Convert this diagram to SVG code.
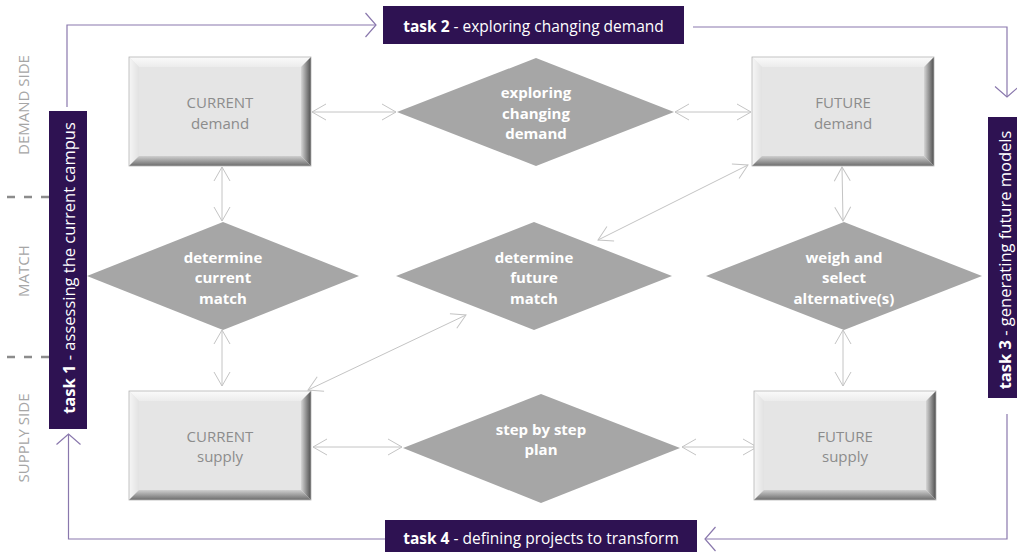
<svg xmlns="http://www.w3.org/2000/svg" xmlns:xlink="http://www.w3.org/1999/xlink" width="1017" height="552" viewBox="0 0 1017 552">
<style>
.boxtxt{font-family:"Open Sans","Liberation Sans",sans-serif;font-size:15px;fill:#8c8c8c;text-anchor:middle}
.dtxt{font-family:"Open Sans","Liberation Sans",sans-serif;font-size:15px;font-weight:bold;fill:#ffffff;text-anchor:middle}
.diam{fill:#a6a6a6}
.banner{fill:#2e1252}
.btxt{font-family:"Open Sans","Liberation Sans",sans-serif;font-size:15.5px;fill:#ffffff;text-anchor:middle}
.vtxt{font-family:"Open Sans","Liberation Sans",sans-serif;font-size:16.5px;fill:#ffffff;text-anchor:middle}
.side{font-family:"Open Sans","Liberation Sans",sans-serif;font-size:15px;fill:#a6a6a6;text-anchor:middle}
.conn{stroke:#c4c4c4;stroke-width:1;fill:none;marker-start:url(#ga);marker-end:url(#ga)}
.flow{stroke:#8a78ad;stroke-width:1.2;fill:none;marker-end:url(#pa)}
.dash{stroke:#8c8c8c;stroke-width:2.5;stroke-dasharray:8 9}
</style>
<defs>
<linearGradient id="gr" x1="0" y1="0" x2="1" y2="0">
<stop offset="0" stop-color="#d6d6d6"/><stop offset="1" stop-color="#4e4e4e"/>
</linearGradient>
<linearGradient id="gb" x1="0" y1="0" x2="0" y2="1">
<stop offset="0" stop-color="#cfcfcf"/><stop offset="1" stop-color="#6c6c6c"/>
</linearGradient>
<linearGradient id="gl" x1="0" y1="0" x2="1" y2="0">
<stop offset="0" stop-color="#f6f6f6"/><stop offset="1" stop-color="#e2e2e2"/>
</linearGradient>
<linearGradient id="gt" x1="0" y1="0" x2="0" y2="1">
<stop offset="0" stop-color="#fbfbfb"/><stop offset="1" stop-color="#ececec"/>
</linearGradient>
<g id="bevel">
<rect x="0" y="0" width="182" height="109" fill="#e5e5e5"/>
<polygon points="0,0 182,0 172,10 10,10" fill="url(#gt)"/>
<polygon points="0,0 10,10 10,99 0,109" fill="url(#gl)"/>
<polygon points="182,0 182,109 172,99 172,10" fill="url(#gr)"/>
<polygon points="0,109 10,99 172,99 182,109" fill="url(#gb)"/>
<rect x="10" y="10" width="162" height="89" fill="#e5e5e5"/>
<rect x="0" y="0" width="182" height="109" fill="none" stroke="#b4b4b4" stroke-width="0.8"/>
</g>
<marker id="ga" markerUnits="userSpaceOnUse" markerWidth="16" markerHeight="18" viewBox="0 0 16 18" refX="15" refY="9" orient="auto-start-reverse">
<path d="M1,1 L15,9 L1,17" fill="none" stroke="#c4c4c4" stroke-width="1"/>
</marker>
<marker id="pa" markerUnits="userSpaceOnUse" markerWidth="13" markerHeight="26" viewBox="0 0 13 26" refX="11.5" refY="13" orient="auto">
<path d="M1,1 L11.5,13 L1,25" fill="none" stroke="#8a78ad" stroke-width="1.2"/>
</marker>
</defs>

<g id="side-labels">
<text class="side" transform="translate(29,105) rotate(-90)">DEMAND SIDE</text>
<text class="side" transform="translate(29,271) rotate(-90)">MATCH</text>
<text class="side" transform="translate(29,438) rotate(-90)">SUPPLY SIDE</text>
<line class="dash" x1="7" y1="197" x2="49" y2="197"/>
<line class="dash" x1="7" y1="357" x2="49" y2="357"/>
</g>

<g id="connectors">
<line class="conn" x1="312" y1="112" x2="396" y2="112"/>
<line class="conn" x1="675" y1="112" x2="751" y2="112"/>
<line class="conn" x1="222" y1="167" x2="222" y2="221"/>
<line class="conn" x1="222" y1="330" x2="222" y2="386"/>
<line class="conn" x1="308" y1="390" x2="466" y2="315"/>
<line class="conn" x1="748" y1="165" x2="598" y2="240"/>
<line class="conn" x1="842" y1="167" x2="843" y2="221"/>
<line class="conn" x1="843" y1="330" x2="843" y2="386"/>
<line class="conn" x1="313" y1="447" x2="402" y2="447"/>
<line class="conn" x1="682" y1="447" x2="757" y2="447"/>
<polyline class="flow" points="67,107 67,25 376,25"/>
<polyline class="flow" points="693,27 1007,27 1007,97"/>
<polyline class="flow" points="1007,414 1007,539 705,539"/>
<polyline class="flow" points="385,539 68.5,539 68.5,434"/>
</g>

<g id="current-demand">
<use xlink:href="#bevel" x="129" y="57"/>
<text class="boxtxt" x="220" y="108">CURRENT</text>
<text class="boxtxt" x="220" y="128.5">demand</text>
</g>
<g id="future-demand">
<use xlink:href="#bevel" x="752" y="57"/>
<text class="boxtxt" x="843" y="108">FUTURE</text>
<text class="boxtxt" x="843" y="128.5">demand</text>
</g>
<g id="current-supply">
<use xlink:href="#bevel" x="129" y="391"/>
<text class="boxtxt" x="220" y="441.5">CURRENT</text>
<text class="boxtxt" x="220" y="462">supply</text>
</g>
<g id="future-supply">
<use xlink:href="#bevel" x="754" y="391"/>
<text class="boxtxt" x="845" y="441.5">FUTURE</text>
<text class="boxtxt" x="845" y="462">supply</text>
</g>

<g id="exploring-changing-demand">
<polygon class="diam" points="397,112 536,58 674,112 536,166"/>
<text class="dtxt" x="536" y="98">exploring</text>
<text class="dtxt" x="536" y="118.5">changing</text>
<text class="dtxt" x="536" y="139">demand</text>
</g>
<g id="determine-current-match">
<polygon class="diam" points="87,276 223,222 359,276 223,330"/>
<text class="dtxt" x="223" y="262.5">determine</text>
<text class="dtxt" x="223" y="283">current</text>
<text class="dtxt" x="223" y="303.5">match</text>
</g>
<g id="determine-future-match">
<polygon class="diam" points="396,276 534,222 672,276 534,330"/>
<text class="dtxt" x="534" y="262.5">determine</text>
<text class="dtxt" x="534" y="283">future</text>
<text class="dtxt" x="534" y="303.5">match</text>
</g>
<g id="weigh-and-select">
<polygon class="diam" points="706,276 844,222 982,276 844,330"/>
<text class="dtxt" x="844" y="262.5">weigh and</text>
<text class="dtxt" x="844" y="283">select</text>
<text class="dtxt" x="844" y="303.5">alternative(s)</text>
</g>
<g id="step-by-step-plan">
<polygon class="diam" points="403,448 541,394 680,448 541,503"/>
<text class="dtxt" x="541" y="434.5">step by step</text>
<text class="dtxt" x="541" y="455">plan</text>
</g>

<g id="task1">
<rect class="banner" x="49" y="111" width="38" height="318"/>
<text class="vtxt" transform="translate(75,268) rotate(-90)"><tspan font-weight="bold">task 1</tspan> - assessing the current campus</text>
</g>
<g id="task2">
<rect class="banner" x="383" y="6" width="301" height="38"/>
<text class="btxt" x="533.5" y="31.5"><tspan font-weight="bold">task 2</tspan> - exploring changing demand</text>
</g>
<g id="task3">
<rect class="banner" x="988" y="117" width="32" height="281"/>
<text class="vtxt" transform="translate(1011,260) rotate(-90)"><tspan font-weight="bold">task 3</tspan> - generating future models</text>
</g>
<g id="task4">
<rect class="banner" x="385" y="520" width="312" height="35"/>
<text class="btxt" x="541" y="544"><tspan font-weight="bold">task 4</tspan> - defining projects to transform</text>
</g>
</svg>
